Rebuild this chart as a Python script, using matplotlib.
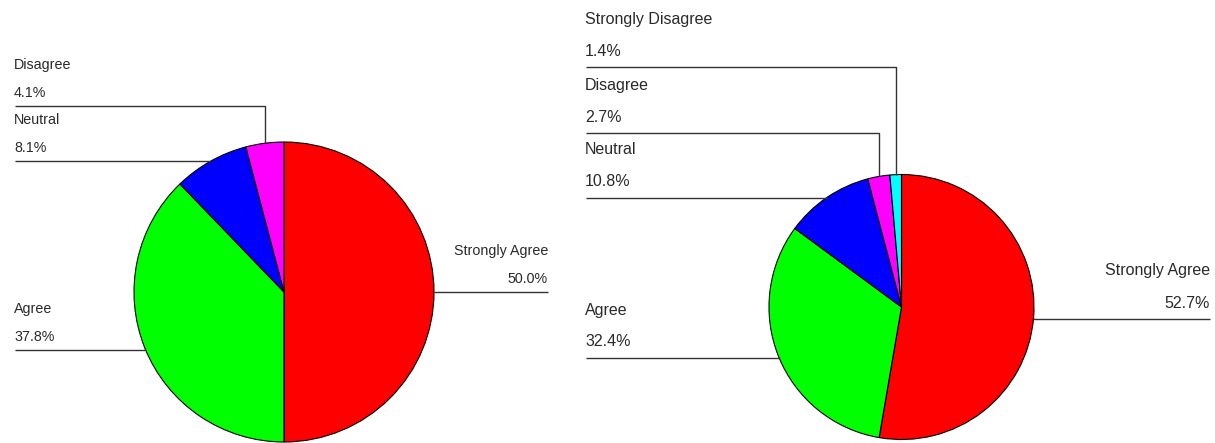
import numpy as np
import matplotlib.pyplot as plt

# survey answers, two groups
labels_a = ["Strongly Agree", "Agree", "Neutral", "Disagree"]
values_a = [50.0, 37.8, 8.1, 4.1]
colors_a = ["#ff0000", "#00ff00", "#0000ff", "#ff00ff"]

labels_b = ["Strongly Agree", "Agree", "Neutral", "Disagree", "Strongly Disagree"]
values_b = [52.7, 32.4, 10.8, 2.7, 1.4]
colors_b = ["#ff0000", "#00ff00", "#0000ff", "#ff00ff", "#00ffff"]

# label layout (pixels): shelf height of each leader and which side it goes to
shelf_a = [292, 350, 161, 106]
side_a = ["right", "left", "left", "left"]
shelf_b = [319, 358, 198, 133, 67]
side_b = ["right", "left", "left", "left", "left"]

W, H = 1215, 443
fig = plt.figure(figsize=(W / 100, H / 100), dpi=100)
ax = fig.add_axes([0, 0, 1, 1])

TXT = "#2a2a2a"
LINE = "#333333"


def draw_pie(vals, cols, labels, shelves, sides, center, r, xl, xr, fs, d_pct, d_name):
    cx, cy = center
    # y axis is flipped, so counterclock here runs clockwise on screen
    ax.pie(vals, colors=cols, center=(cx, cy), radius=r, startangle=-90,
           counterclock=True, frame=True,
           wedgeprops=dict(edgecolor="black", linewidth=0.8))
    cum = np.cumsum([0] + list(vals[:-1]))
    for v, c0, lab, sy, side in zip(vals, cum, labels, shelves, sides):
        ang = np.radians(90 - 360 * (c0 + v / 2) / 100.0)
        ex = cx + r * np.cos(ang)
        ey = cy - r * np.sin(ang)
        xend = xl if side == "left" else xr
        ax.plot([xend, ex, ex], [sy, sy, ey], color=LINE, lw=1.0,
                solid_capstyle="butt")
        ha = "left" if side == "left" else "right"
        tx = xend - 1 if side == "left" else xend
        ax.text(tx, sy - d_name, lab, ha=ha, va="center", fontsize=fs,
                color=TXT, family="Liberation Sans")
        ax.text(tx, sy - d_pct, f"{v:.1f}%", ha=ha, va="center", fontsize=fs,
                color=TXT, family="Liberation Sans")


draw_pie(values_a, colors_a, labels_a, shelf_a, side_a, (284, 292), 150,
         15, 548, 10.3, 13, 41)
draw_pie(values_b, colors_b, labels_b, shelf_b, side_b, (901.5, 307), 132.5,
         586, 1210, 11.5, 16, 48)

ax.set_xlim(0, W)
ax.set_ylim(H, 0)
ax.set_aspect("equal")
ax.axis("off")

fig.savefig("out.png", dpi=100)
